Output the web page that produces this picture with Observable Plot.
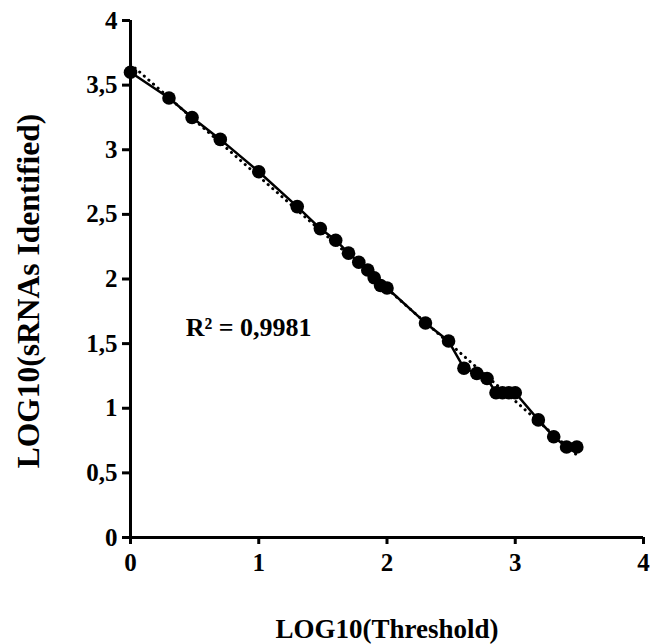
<!DOCTYPE html>
<html>
<head>
<meta charset="utf-8">
<script src="https://cdn.jsdelivr.net/npm/d3@7"></script>
<script src="https://cdn.jsdelivr.net/npm/@observablehq/plot@0.6"></script>
<style>
  html, body { margin: 0; padding: 0; background: #fff; }
  #chart svg { display: block; }
</style>
</head>
<body>
<div id="chart"></div>
<script>
const thresholdLog = [0, 0.30, 0.48, 0.70, 1.00, 1.30, 1.48, 1.60, 1.70, 1.78, 1.85, 1.90, 1.95, 2.00, 2.30, 2.48, 2.60, 2.70, 2.78, 2.85, 2.90, 2.95, 3.00, 3.18, 3.30, 3.40, 3.48];
const identifiedLog = [3.60, 3.40, 3.25, 3.08, 2.83, 2.56, 2.39, 2.30, 2.20, 2.13, 2.07, 2.01, 1.95, 1.93, 1.66, 1.52, 1.31, 1.27, 1.23, 1.12, 1.12, 1.12, 1.12, 0.91, 0.78, 0.70, 0.70];
const xTicks = [0, 1, 2, 3, 4];
const yTicks = [0, 0.5, 1, 1.5, 2, 2.5, 3, 3.5, 4];
const xTitle = "LOG10(Threshold)";
const yTitle = "LOG10(sRNAs Identified)";
const r2Label = "R² = 0,9981";

const data = thresholdLog.map((x, i) => ({x, y: identifiedLog[i]}));
const fmt = d => String(d).replace(".", ",");

const chart = Plot.plot({
  width: 653,
  height: 644,
  marginLeft: 130,
  marginRight: 10,
  marginTop: 20,
  marginBottom: 107,
  style: {fontFamily: "'Liberation Serif', 'Times New Roman', serif", fontWeight: "bold", fontSize: "25px", color: "#000", background: "#fff"},
  x: {domain: [0, 4]},
  y: {domain: [0, 4]},
  marks: [
    Plot.axisX(xTicks, {tickSize: 7, strokeWidth: 3, tickPadding: 9, tickFormat: fmt, label: null, fontSize: 25}),
    Plot.axisY(yTicks, {tickSize: 8, strokeWidth: 3, tickPadding: 5, tickFormat: fmt, label: null, fontSize: 25}),
    Plot.ruleY([0], {stroke: "#000", strokeWidth: 3}),
    Plot.ruleX([0], {stroke: "#000", strokeWidth: 3, y1: 0, y2: 4}),
    Plot.text([xTitle], {frameAnchor: "bottom", dy: 92, text: d => d, textAnchor: "middle", lineAnchor: "middle", fontSize: 27, fontWeight: "bold", fill: "#000"}),
    Plot.text([yTitle], {frameAnchor: "left", dx: -102, dy: 12, rotate: -90, text: d => d, textAnchor: "middle", lineAnchor: "middle", fontSize: 31.5, fontWeight: "bold", fill: "#000"}),
    Plot.linearRegressionY(data, {x: "x", y: "y", ci: 0, stroke: "#000", strokeWidth: 3, strokeDasharray: "0.1,6", strokeLinecap: "round"}),
    Plot.line(data, {x: "x", y: "y", stroke: "#000", strokeWidth: 2.5}),
    Plot.dot(data, {x: "x", y: "y", r: 6.8, fill: "#000", stroke: "none"}),
    Plot.text([r2Label], {x: 0.43, y: 1.62, text: d => d, textAnchor: "start", fontSize: 26, fontWeight: "bold", fill: "#000"})
  ]
});
document.getElementById("chart").appendChild(chart);
</script>
</body>
</html>
